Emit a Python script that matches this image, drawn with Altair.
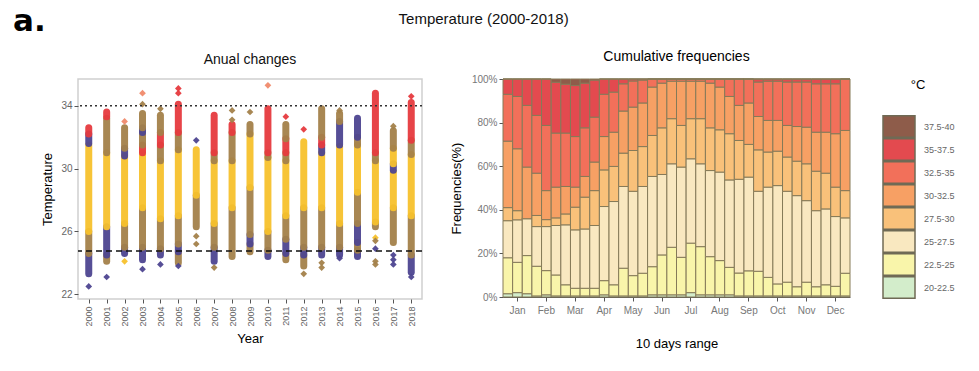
import altair as alt
import pandas as pd

FONT = "Liberation Sans"

# ---------------- Left panel: annual temperature columns ----------------
years = ["2000", "2001", "2002", "2003", "2004", "2005", "2006", "2007", "2008", "2009",
         "2010", "2011", "2012", "2013", "2014", "2015", "2016", "2017", "2018"]

# (year, low, high, colour group) : runs of overlapping daily points
segments = [
    ("2000", 23.3, 24.6, "P"), ("2000", 24.6, 26.0, "B"), ("2000", 26.0, 31.5, "Y"), ("2000", 31.6, 32.2, "P"), ("2000", 32.2, 32.6, "R"),
    ("2001", 24.1, 24.5, "B"), ("2001", 24.5, 26.3, "P"), ("2001", 26.3, 31.0, "Y"), ("2001", 31.0, 33.2, "B"), ("2001", 33.3, 33.6, "R"),
    ("2002", 24.6, 25.0, "P"), ("2002", 25.0, 26.5, "B"), ("2002", 26.5, 30.8, "Y"), ("2002", 30.8, 31.3, "P"), ("2002", 31.3, 32.6, "B"),
    ("2003", 24.2, 25.0, "P"), ("2003", 25.0, 27.5, "B"), ("2003", 27.5, 31.0, "Y"), ("2003", 31.0, 31.5, "R"), ("2003", 31.5, 32.3, "B"), ("2003", 32.3, 32.6, "P"), ("2003", 32.6, 33.5, "B"),
    ("2004", 24.5, 24.9, "P"), ("2004", 24.9, 26.8, "B"), ("2004", 26.8, 30.5, "Y"), ("2004", 30.5, 31.5, "B"), ("2004", 31.5, 32.3, "R"), ("2004", 32.3, 33.4, "B"),
    ("2005", 24.0, 24.7, "B"), ("2005", 24.7, 25.2, "P"), ("2005", 25.2, 27.0, "B"), ("2005", 27.0, 31.2, "Y"), ("2005", 31.2, 32.3, "B"), ("2005", 32.3, 34.1, "R"),
    ("2006", 26.3, 28.3, "B"), ("2006", 28.3, 31.2, "Y"),
    ("2007", 24.1, 25.0, "P"), ("2007", 25.0, 26.5, "B"), ("2007", 26.5, 30.5, "Y"), ("2007", 30.5, 31.0, "B"), ("2007", 31.0, 33.4, "R"),
    ("2008", 24.4, 27.5, "B"), ("2008", 27.5, 30.5, "Y"), ("2008", 30.5, 32.3, "B"), ("2008", 32.3, 32.8, "R"),
    ("2009", 24.7, 25.2, "B"), ("2009", 25.2, 25.8, "P"), ("2009", 25.8, 28.8, "B"), ("2009", 28.8, 32.2, "Y"), ("2009", 32.2, 32.8, "B"),
    ("2010", 24.4, 24.8, "P"), ("2010", 24.8, 26.0, "B"), ("2010", 26.0, 30.7, "Y"), ("2010", 30.7, 31.0, "B"), ("2010", 31.0, 33.8, "R"),
    ("2011", 24.2, 24.6, "B"), ("2011", 24.6, 25.5, "P"), ("2011", 25.5, 27.0, "B"), ("2011", 27.0, 30.5, "Y"), ("2011", 30.5, 31.0, "B"), ("2011", 31.0, 31.9, "R"), ("2011", 31.9, 32.8, "B"),
    ("2012", 23.8, 24.5, "B"), ("2012", 24.5, 25.0, "P"), ("2012", 25.0, 27.5, "B"), ("2012", 27.5, 31.7, "Y"),
    ("2013", 24.5, 25.0, "P"), ("2013", 25.0, 27.5, "B"), ("2013", 27.5, 31.0, "Y"), ("2013", 31.0, 31.5, "P"), ("2013", 31.5, 32.0, "R"), ("2013", 32.0, 33.8, "B"),
    ("2014", 24.5, 25.0, "P"), ("2014", 25.0, 26.5, "B"), ("2014", 26.5, 31.4, "Y"), ("2014", 31.5, 33.0, "P"), ("2014", 33.0, 33.5, "B"),
    ("2015", 24.4, 24.8, "P"), ("2015", 24.8, 25.3, "B"), ("2015", 25.3, 26.5, "P"), ("2015", 26.5, 28.5, "B"), ("2015", 28.5, 31.5, "Y"), ("2015", 31.5, 32.0, "B"), ("2015", 32.0, 33.2, "P"),
    ("2016", 26.3, 26.6, "B"), ("2016", 26.6, 30.5, "Y"), ("2016", 30.5, 31.0, "B"), ("2016", 31.0, 34.8, "R"),
    ("2017", 25.3, 27.5, "B"), ("2017", 27.5, 29.8, "Y"), ("2017", 29.9, 30.3, "P"), ("2017", 30.3, 31.3, "Y"), ("2017", 31.3, 32.4, "B"),
    ("2018", 23.4, 24.5, "P"), ("2018", 24.5, 27.0, "B"), ("2018", 27.0, 30.9, "Y"), ("2018", 30.9, 31.8, "B"), ("2018", 31.8, 34.2, "R"),
]

# isolated points (year, temperature, colour group)
outliers = [
    ("2000", 22.5, "P"), ("2001", 23.1, "P"), ("2002", 33.0, "S"), ("2002", 24.1, "Y"),
    ("2003", 34.1, "B"), ("2003", 34.8, "S"), ("2003", 23.6, "P"), ("2004", 33.8, "B"), ("2004", 23.9, "P"),
    ("2005", 34.8, "R"), ("2005", 35.1, "R"), ("2005", 23.8, "P"), ("2006", 31.8, "P"), ("2006", 25.7, "B"),
    ("2006", 25.2, "B"), ("2007", 23.7, "B"), ("2008", 33.1, "B"), ("2008", 33.7, "B"), ("2009", 33.6, "B"),
    ("2010", 35.3, "S"), ("2011", 33.3, "R"), ("2012", 32.5, "R"), ("2012", 23.3, "B"), ("2013", 24.0, "B"),
    ("2013", 23.7, "B"), ("2014", 33.7, "B"), ("2014", 24.3, "P"), ("2016", 25.6, "Y"), ("2016", 25.4, "B"),
    ("2016", 24.9, "P"), ("2016", 24.1, "B"), ("2016", 23.9, "B"), ("2017", 32.7, "B"), ("2017", 24.5, "P"),
    ("2017", 24.2, "P"), ("2017", 23.9, "P"), ("2018", 34.6, "R"), ("2018", 23.1, "P"),
]

upper_threshold = 34.0
lower_threshold = 24.75

group_codes = ["Y", "B", "P", "R", "S"]
group_colors = ["#F7C12C", "#A3814A", "#4D4490", "#E63A3E", "#F08A6C"]

seg_df = pd.DataFrame(segments, columns=["year", "lo", "hi", "grp"])
out_df = pd.DataFrame(outliers, columns=["year", "temp", "grp"])
thr_df = pd.DataFrame({"value": [upper_threshold, lower_threshold], "kind": ["upper", "lower"]})

xs = alt.X("year:O", scale=alt.Scale(type="point", domain=years, padding=0.6),
           axis=alt.Axis(title="Year", labelAngle=270, labelFontSize=9, labelColor="#666",
                         tickColor="#555", tickSize=4, domain=False, grid=False,
                         titleFontSize=13, titleFontWeight="normal", titlePadding=6,
                         labelPadding=3))
yscale = alt.Scale(domain=[21.7, 35.7], nice=False, zero=False)
yaxis = alt.Axis(title="Temperature", values=[22, 24, 26, 28, 30, 32, 34], labelFontSize=10,
                 labelColor="#666", tickColor="#555", tickSize=4, domain=False, grid=False,
                 titleFontSize=13, titleFontWeight="normal", titlePadding=6)
gcol = alt.Color("grp:N", scale=alt.Scale(domain=group_codes, range=group_colors), legend=None)

cols = alt.Chart(seg_df).mark_rule(strokeWidth=7, strokeCap="round", opacity=0.95).encode(
    x=xs, y=alt.Y("lo:Q", scale=yscale, axis=yaxis), y2="hi:Q", color=gcol)
pts = alt.Chart(out_df).mark_point(filled=True, shape="diamond", size=45, opacity=0.95).encode(
    x=xs, y=alt.Y("temp:Q", scale=yscale), color=gcol)
upper = alt.Chart(thr_df[thr_df.kind == "upper"]).mark_rule(
    color="#333", strokeWidth=1.5, strokeDash=[2, 3]).encode(y=alt.Y("value:Q", scale=yscale))
lower = alt.Chart(thr_df[thr_df.kind == "lower"]).mark_rule(
    color="#111", strokeWidth=1.5, strokeDash=[6, 4]).encode(y=alt.Y("value:Q", scale=yscale))

panel_tag = alt.Chart(pd.DataFrame({"t": ["a."]})).mark_text(
    align="left", baseline="top", fontSize=31, fontWeight="bold", font="DejaVu Sans", color="#000").encode(
    text="t:N", x=alt.value(-65), y=alt.value(-72))
left_title = alt.Chart(pd.DataFrame({"t": ["Anual changes"]})).mark_text(
    align="center", baseline="middle", fontSize=14, font=FONT, color="#111").encode(
    text="t:N", x=alt.value(172), y=alt.value(-19))

left = alt.layer(cols, pts, upper, lower, panel_tag, left_title).properties(
    width=344, height=220,
    view=alt.ViewBackground(stroke="#cfcfcf", strokeWidth=1.5))

# ---------------- Right panel: cumulative frequencies ----------------
months = ["Jan", "Feb", "Mar", "Apr", "May", "Jun", "Jul", "Aug", "Sep", "Oct", "Nov", "Dec"]
dekads = list(range(1, 37))
classes = ["20-22.5", "22.5-25", "25-27.5", "27.5-30", "30-32.5", "32.5-35", "35-37.5", "37.5-40"]
class_colors = ["#D3EDCB", "#F9F5AA", "#F9E8C0", "#F9C17A", "#F7A064", "#F2705A", "#E34A4F", "#8E5C4A"]

# cumulative top (%) of each class, dekad 1..36
top_20 = [1.5, 2, 1.5, 0.5, 1, 0.5, 0.5, 0.5, 0.5, 0.5, 1, 0.5, 0.5, 0.5, 0.5, 1, 1, 1,
          1, 2, 1, 1, 1, 1, 0.5, 0.5, 0.5, 0.5, 0.5, 0.5, 0.5, 0.5, 0.5, 0.5, 0.5, 0.5]
top_22 = [18, 15.9, 19, 14.1, 12.1, 10.1, 5.6, 4, 4, 4, 7.5, 5.6, 13.2, 9.8, 10.9, 13.9, 19.3, 22.8,
          18.2, 24.7, 23.1, 18.5, 16.7, 13.6, 11, 12, 11.8, 9, 6, 6.8, 4.7, 6.8, 4.7, 5.6, 4.9, 10.9]
top_25 = [35, 35.4, 36.3, 32.3, 32.3, 32.8, 33.1, 30.8, 31.2, 32.8, 41.5, 43.8, 50.7, 48.5, 50.7, 55.3, 56.2, 61.1,
          59.6, 63.4, 61.1, 58, 57.3, 53.7, 54, 55, 48.5, 50.4, 51.1, 48.5, 46.5, 44.2, 39.6, 40.4, 36.9, 36.3]
top_27 = [41, 39.6, 35.9, 37.4, 35.5, 36.3, 38.1, 41.2, 45.8, 48.8, 58.3, 59.9, 66, 67.2, 69, 74.1, 77.6, 81.8,
          78.7, 81.8, 81.8, 77.6, 76.7, 74.9, 71.8, 70, 67.5, 66.5, 66.9, 64.2, 62.3, 61.1, 57.7, 56.8, 50.4, 48.8]
top_30 = [71.5, 68, 59.6, 56.8, 48.8, 50.4, 50.7, 50.4, 55.3, 61.9, 73.6, 75.6, 85.3, 87.1, 89, 96.3, 98.1, 99,
          99, 99, 99, 98.1, 96.3, 92, 87.9, 89, 82.8, 81, 81, 78.7, 78.2, 77.9, 75.6, 75.6, 74.9, 76.4]
top_32 = [93, 92, 87.9, 83.3, 78.7, 75.2, 75.2, 73.6, 77.6, 82.5, 93, 94, 97.8, 99.1, 99.5, 100, 100, 100,
          100, 100, 100, 100, 100, 100, 100, 100, 98.6, 99, 99, 98.6, 98.6, 98.6, 97.8, 97.8, 97.8, 100]
top_35 = [100, 100, 100, 100, 100, 98.5, 97.6, 97, 98.1, 99.5, 100, 100, 100, 100, 100, 100, 100, 100,
          100, 100, 100, 100, 100, 100, 100, 100, 100, 100, 100, 100, 100, 100, 100, 100, 100, 100]
top_37 = [100] * 36

tops = [top_20, top_22, top_25, top_27, top_30, top_32, top_35, top_37]
rows = []
for i, d in enumerate(dekads):
    prev = 0.0
    for c, t in zip(classes, tops):
        rows.append({"dekad": d, "cls": c, "lo": prev, "hi": t[i]})
        prev = t[i]
freq_df = pd.DataFrame(rows)

month_ticks = [2 + 3 * k for k in range(12)]
month_expr = "[" + ",".join("'%s'" % m for m in months) + "][(datum.value - 2) / 3]"

bars = alt.Chart(freq_df).mark_bar(stroke="#857a58", strokeWidth=1).encode(
    x=alt.X("dekad:O", scale=alt.Scale(paddingInner=0, paddingOuter=0),
            axis=alt.Axis(title="10 days range", values=month_ticks, labelExpr=month_expr,
                          labelAngle=0, labelFontSize=10, labelColor="#777", tickColor="#555",
                          tickSize=4, domainColor="#555", titleFontSize=13,
                          titleFontWeight="normal", titlePadding=22, labelPadding=4)),
    y=alt.Y("lo:Q", scale=alt.Scale(domain=[0, 100], nice=False),
            axis=alt.Axis(title="Frequencies(%)", values=[0, 20, 40, 60, 80, 100],
                          labelExpr="datum.value + '%'", labelFontSize=10, labelColor="#777",
                          tickColor="#555", tickSize=4, domainColor="#555", grid=False,
                          titleFontSize=13, titleFontWeight="normal", titlePadding=8)),
    y2="hi:Q",
    fill=alt.Fill("cls:N", scale=alt.Scale(domain=classes[::-1], range=class_colors[::-1]),
                  legend=alt.Legend(title="°C", orient="right", offset=31,
                                    symbolType="M-1,-0.672H1V0.672H-1Z", symbolSize=1024,
                                    symbolStrokeColor="#6f6a55", symbolStrokeWidth=1.5,
                                    clipHeight=23, rowPadding=0, labelFontSize=9, labelColor="#666",
                                    labelOffset=8, titleFontSize=13, titleFontWeight="normal",
                                    titleAnchor="middle", titlePadding=23)),
)

right = bars.properties(
    width=347, height=218,
    title=alt.TitleParams("Cumulative frequencies", fontSize=14, fontWeight="normal", font=FONT, offset=10),
    view=alt.ViewBackground(stroke=None))

chart = alt.hconcat(left, right, spacing=26).properties(
    title=alt.TitleParams("Temperature (2000-2018)", anchor="middle", frame="bounds", fontSize=15,
                          fontWeight="normal", font=FONT, color="#111", offset=0, dy=22),
    padding={"left": 12, "top": 5, "right": 5, "bottom": 5},
    background="white",
).configure(font=FONT).configure_axis(labelFont=FONT, titleFont=FONT).configure_legend(
    labelFont=FONT, titleFont=FONT)

chart.save("out.html", embed_options={"renderer": "svg", "actions": False})
